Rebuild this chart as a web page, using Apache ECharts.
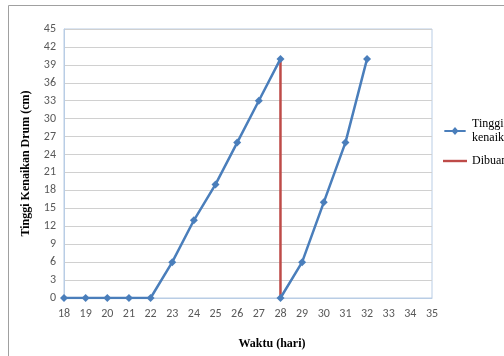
<!DOCTYPE html>
<html><head><meta charset="utf-8">
<script src="https://cdn.jsdelivr.net/npm/echarts@6/dist/echarts.min.js"></script>
<style>html,body{margin:0;padding:0;background:#fff}#c{width:504px;height:356px}</style>
</head><body><div id="c"></div>
<script>
var days1 = [18,19,20,21,22,23,24,25,26,27,28];
var height1 = [0,0,0,0,0,6,13,19,26,33,40];
var days2 = [28,29,30,31,32];
var height2 = [0,6,16,26,40];
var dumpDays = [28,28];
var dumpHeight = [40,0];
var seriesName1 = 'Tinggi\nkenaikan';
var seriesName2 = 'Dibuang';

function pairs(xs, ys){ return xs.map(function(x,i){return [x, ys[i]];}); }

var chart = echarts.init(document.getElementById('c'));
var blue = '#4a7ebb', red = '#be4b48';
var serif = "'Liberation Serif', 'Times New Roman', serif";
chart.setOption({
  animation:false,
  graphic:[{type:'rect', shape:{x:8.5,y:5.5,width:520,height:380}, style:{fill:'none', stroke:'#a0a0a0', lineWidth:1}, silent:true}],
  grid:{left:64, right:72, top:29, bottom:58, show:true, borderColor:'#b9cde5', borderWidth:1, backgroundColor:'#fff'},
  xAxis:{type:'value', min:18, max:35, interval:1,
    name:'Waktu (hari)', nameLocation:'middle', nameGap:40,
    nameTextStyle:{fontFamily:serif, fontWeight:'bold', fontSize:12, color:'#000', padding:[0,0,0,48]},
    axisLine:{lineStyle:{color:'#b9cde5'}}, axisTick:{show:false},
    axisLabel:{fontFamily:'Carlito, Liberation Sans, sans-serif', fontSize:12, color:'#595959', margin:10},
    splitLine:{show:false}},
  yAxis:{type:'value', min:0, max:45, interval:3,
    name:'Tinggi Kenaikan Drum (cm)', nameLocation:'middle', nameGap:32,
    nameTextStyle:{fontFamily:serif, fontWeight:'bold', fontSize:12, color:'#000'},
    axisLine:{show:true, lineStyle:{color:'#b9cde5'}}, axisTick:{show:false},
    axisLabel:{fontFamily:'Carlito, Liberation Sans, sans-serif', fontSize:12, color:'#595959', margin:8},
    splitLine:{lineStyle:{color:'#d0d0d0', width:1}}},
  legend:{orient:'vertical', left:438, top:112, itemGap:9, itemWidth:24, itemHeight:8,
    textStyle:{fontFamily:serif, fontSize:12, color:'#000', lineHeight:14},
    data:[{name:seriesName1, icon:'path://M0,3.3L9,3.3L12,0L15,3.3L24,3.3L24,5.7L15,5.7L12,9L9,5.7L0,5.7Z', textStyle:{fontFamily:serif}},
          {name:seriesName2, icon:'path://M0,3.3L24,3.3L24,5.7L0,5.7Z', textStyle:{fontFamily:serif}}]},
  series:[
    {name:seriesName1, type:'line', data:pairs(days1,height1), color:blue,
      lineStyle:{width:2.5, color:blue}, symbol:'diamond', symbolSize:8, itemStyle:{color:blue}},
    {name:seriesName1, type:'line', data:pairs(days2,height2), color:blue,
      lineStyle:{width:2.5, color:blue}, symbol:'diamond', symbolSize:8, itemStyle:{color:blue}},
    {name:seriesName2, type:'line', data:pairs(dumpDays,dumpHeight), color:red,
      lineStyle:{width:2.5, color:red}, symbol:'none', itemStyle:{color:red}, z:1}
  ]
});
</script></body></html>
